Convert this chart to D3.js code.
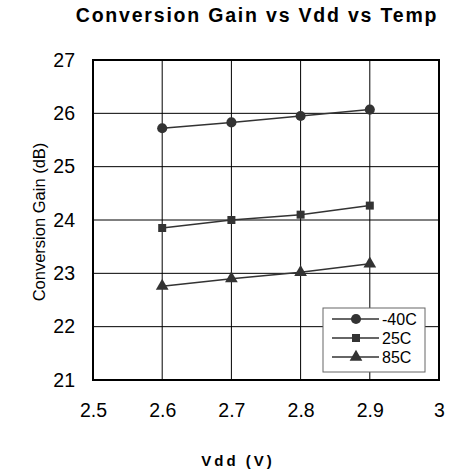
<!DOCTYPE html>
<html><head><meta charset="utf-8">
<script src="https://cdn.jsdelivr.net/npm/d3@7"></script>
<style>body{margin:0;background:#fff}svg{display:block}text{font-family:"Liberation Sans",Arial,sans-serif}</style>
</head><body><svg id="c" width="449" height="470"></svg>
<script>
const vdd = [2.6, 2.7, 2.8, 2.9];
const gainM40 = [25.72, 25.83, 25.95, 26.07];
const gain25 = [23.85, 24.00, 24.10, 24.27];
const gain85 = [22.76, 22.90, 23.02, 23.18];
const seriesNames = ["-40C", "25C", "85C"];
const xTicks = [2.5, 2.6, 2.7, 2.8, 2.9, 3];
const yTicks = [21, 22, 23, 24, 25, 26, 27];

const svg = d3.select("#c");
const L = 93, T = 60, R = 439, B = 380;
const x = d3.scaleLinear().domain([2.5, 3]).range([L, R]);
const y = d3.scaleLinear().domain([21, 27]).range([B, T]);
const col = "#333";
const FF = "Liberation Sans, Arial, sans-serif";

// grid
svg.append("g").selectAll("line").data(xTicks.slice(1, -1)).join("line")
  .attr("x1", d => x(d)).attr("x2", d => x(d)).attr("y1", T).attr("y2", B)
  .attr("stroke", "#000").attr("stroke-width", 1);
svg.append("g").selectAll("line").data(yTicks.slice(1, -1)).join("line")
  .attr("y1", d => y(d)).attr("y2", d => y(d)).attr("x1", L).attr("x2", R)
  .attr("stroke", "#000").attr("stroke-width", 1);
svg.append("rect").attr("x", L).attr("y", T).attr("width", R - L).attr("height", B - T)
  .attr("fill", "none").attr("stroke", "#000").attr("stroke-width", 2);

// axes (labels only)
const xa = svg.append("g").attr("transform", `translate(0,${B})`)
  .call(d3.axisBottom(x).tickValues(xTicks).tickFormat(d3.format("")).tickSize(0).tickPadding(23));
xa.select(".domain").remove();
xa.selectAll("text").attr("font-size", 19.5).attr("fill", "#000").attr("font-family", FF);
const ya = svg.append("g").attr("transform", `translate(${L},0)`)
  .call(d3.axisLeft(y).tickValues(yTicks).tickFormat(d3.format("d")).tickSize(0).tickPadding(18));
ya.select(".domain").remove();
ya.selectAll("text").attr("font-size", 19.5).attr("fill", "#000").attr("font-family", FF);

// titles
svg.append("text").attr("x", 257).attr("y", 22).attr("text-anchor", "middle")
  .attr("font-size", 19.5).attr("font-weight", "bold").attr("letter-spacing", 1.8)
  .text("Conversion Gain vs Vdd vs Temp");
svg.append("text").attr("x", 238).attr("y", 466).attr("text-anchor", "middle")
  .attr("font-size", 15).attr("font-weight", "bold").attr("letter-spacing", 3)
  .text("Vdd (V)");
svg.append("text").attr("transform", "translate(45,222) rotate(-90)").attr("text-anchor", "middle")
  .attr("font-size", 16.5).text("Conversion Gain (dB)");

const data = [gainM40, gain25, gain85];
const sym = [d3.symbolCircle, d3.symbolSquare, d3.symbolTriangle];
const sizes = [80, 64, 70];
const line = d3.line().x((d, i) => x(vdd[i])).y(d => y(d));
data.forEach((s, k) => {
  svg.append("path").attr("d", line(s)).attr("fill", "none").attr("stroke", col).attr("stroke-width", 1.5);
  svg.append("g").selectAll("path").data(s).join("path")
    .attr("transform", (d, i) => `translate(${x(vdd[i])},${y(d)})`)
    .attr("d", d3.symbol().type(sym[k]).size(sizes[k])).attr("fill", col);
});

// legend
const lg = svg.append("g");
lg.append("rect").attr("x", 323).attr("y", 308).attr("width", 102).attr("height", 64)
  .attr("fill", "#fff").attr("stroke", "#666").attr("stroke-width", 1);
seriesNames.forEach((n, k) => {
  const yy = 319 + k * 19;
  lg.append("line").attr("x1", 332).attr("x2", 379).attr("y1", yy).attr("y2", yy).attr("stroke", col).attr("stroke-width", 1.5);
  lg.append("path").attr("transform", `translate(356,${yy})`).attr("d", d3.symbol().type(sym[k]).size(sizes[k])).attr("fill", col);
  lg.append("text").attr("x", 382).attr("y", yy + 5.5).attr("font-size", 16).attr("fill", "#000").text(n);
});
</script></body></html>
